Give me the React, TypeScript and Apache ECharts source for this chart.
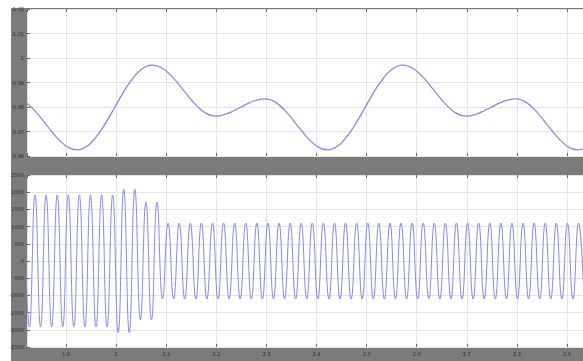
import React, { useEffect, useRef } from "react";
import * as echarts from "echarts";

// Top panel: slow oscillation (time in s, value)
const topTimes = [
  1.798, 1.8187, 1.8393, 1.86, 1.8807, 1.9013,
  1.922, 1.947, 1.972, 1.997, 2.022, 2.047,
  2.072, 2.093, 2.114, 2.135, 2.156, 2.177,
  2.198, 2.2147, 2.2313, 2.248, 2.2647, 2.2813,
  2.298, 2.3187, 2.3393, 2.36, 2.3807, 2.4013,
  2.422, 2.447, 2.472, 2.497, 2.522, 2.547,
  2.572, 2.593, 2.614, 2.635, 2.656, 2.677,
  2.698, 2.7147, 2.7313, 2.748, 2.7647, 2.7813,
  2.798, 2.8187, 2.8393, 2.86, 2.8807, 2.9013,
  2.922, 2.947, 2.972,
];
const topValues = [
  0.9833, 0.9819, 0.9781, 0.9729, 0.9677, 0.9639,
  0.9625, 0.9648, 0.9712, 0.9798, 0.9885, 0.9948,
  0.9971, 0.9957, 0.9919, 0.9867, 0.9815, 0.9777,
  0.9763, 0.9768, 0.9781, 0.9798, 0.9816, 0.9828,
  0.9833, 0.9819, 0.9781, 0.9729, 0.9677, 0.9639,
  0.9625, 0.9648, 0.9712, 0.9798, 0.9885, 0.9948,
  0.9971, 0.9957, 0.9919, 0.9867, 0.9815, 0.9777,
  0.9763, 0.9768, 0.9781, 0.9798, 0.9816, 0.9828,
  0.9833, 0.9819, 0.9781, 0.9729, 0.9677, 0.9639,
  0.9625, 0.9648, 0.9712,
];

// Bottom panel: fast oscillation, peaks and troughs (time in s, value)
const bottomTimes = [
  1.8159, 1.8269, 1.838, 1.8491, 1.8601, 1.8712, 1.8823, 1.8934, 1.9044, 1.9155,
  1.9266, 1.9376, 1.9487, 1.9598, 1.9709, 1.9819, 1.993, 2.0041, 2.0151, 2.0262,
  2.0373, 2.0484, 2.0594, 2.0705, 2.0816, 2.0926, 2.1037, 2.1148, 2.1259, 2.1369,
  2.148, 2.1591, 2.1701, 2.1812, 2.1923, 2.2034, 2.2144, 2.2255, 2.2366, 2.2476,
  2.2587, 2.2698, 2.2809, 2.2919, 2.303, 2.3141, 2.3251, 2.3362, 2.3473, 2.3584,
  2.3694, 2.3805, 2.3916, 2.4026, 2.4137, 2.4248, 2.4359, 2.4469, 2.458, 2.4691,
  2.4801, 2.4912, 2.5023, 2.5134, 2.5244, 2.5355, 2.5466, 2.5576, 2.5687, 2.5798,
  2.5909, 2.6019, 2.613, 2.6241, 2.6351, 2.6462, 2.6573, 2.6684, 2.6794, 2.6905,
  2.7016, 2.7126, 2.7237, 2.7348, 2.7459, 2.7569, 2.768, 2.7791, 2.7901, 2.8012,
  2.8123, 2.8234, 2.8344, 2.8455, 2.8566, 2.8676, 2.8787, 2.8898, 2.9009, 2.9119,
  2.923, 2.9341,
];
const bottomValues = [
  1920, -1920, 1920, -1920, 1920, -1920, 1920, -1920, 1920, -1920,
  1920, -1920, 1920, -1920, 1920, -1920, 1920, -2080, 2080, -2080,
  2080, -1715, 1715, -1715, 1715, -1105, 1105, -1105, 1105, -1105,
  1105, -1105, 1105, -1105, 1105, -1105, 1105, -1105, 1105, -1105,
  1105, -1105, 1105, -1105, 1105, -1105, 1105, -1105, 1105, -1105,
  1105, -1105, 1105, -1105, 1105, -1105, 1105, -1105, 1105, -1105,
  1105, -1105, 1105, -1105, 1105, -1105, 1105, -1105, 1105, -1105,
  1105, -1105, 1105, -1105, 1105, -1105, 1105, -1105, 1105, -1105,
  1105, -1105, 1105, -1105, 1105, -1105, 1105, -1105, 1105, -1105,
  1105, -1105, 1105, -1105, 1105, -1105, 1105, -1105, 1105, -1105,
  1105, -1105,
];

const xRange = [1.822, 2.932];
const topYTicks = [0.96, 0.97, 0.98, 0.99, 1, 1.01, 1.02];
const bottomYTicks = [-2500, -2000, -1500, -1000, -500, 0, 500, 1000, 1500, 2000, 2500];

const GRAY = "#7b7b7b";
const GRID_LINE = "#e3e3e3";
const LINE_COLOR = "#8888e8";
const LABEL_COLOR = "#2a2a2a";
const FONT = "DejaVu Sans";

export default function App() {
  const ref = useRef<HTMLDivElement>(null);
  useEffect(() => {
    if (!ref.current) return;
    const chart = echarts.init(ref.current, undefined, { renderer: "svg" });

    const xBase = (gridIndex: number, pos: "top" | "bottom", labels: boolean) => ({
      type: "value",
      gridIndex,
      position: pos,
      min: xRange[0],
      max: xRange[1],
      minInterval: 0.1,
      maxInterval: 0.1,
      axisLine: { show: false, onZero: false },
      axisTick: { show: true, inside: true, length: 3, lineStyle: { color: "#666", width: 1 } },
      axisLabel: {
        show: labels,
        showMinLabel: false,
        showMaxLabel: false,
        fontSize: 5,
        color: LABEL_COLOR,
        fontFamily: FONT,
        margin: 4,
      },
      splitLine: { show: pos === "bottom", lineStyle: { color: GRID_LINE, width: 1 } },
    });

    const yBase = (gridIndex: number, ticks: number[]) => ({
      type: "value",
      gridIndex,
      min: ticks[0],
      max: ticks[ticks.length - 1],
      interval: gridIndex === 0 ? 0.01 : 500,
      axisLine: { show: false, onZero: false },
      axisTick: { show: true, inside: true, length: 3, lineStyle: { color: "#666", width: 1 } },
      axisLabel: {
        fontSize: 5,
        color: LABEL_COLOR,
        fontFamily: FONT,
        margin: 3,
        formatter: (v: number) => String(Math.round(v * 1000) / 1000),
      },
      splitLine: { show: true, lineStyle: { color: GRID_LINE, width: 1 } },
    });

    chart.setOption({
      animation: false,
      backgroundColor: "#ffffff",
      graphic: [
        {
          type: "rect",
          z: -10,
          silent: true,
          shape: { x: 11, y: 8, width: 572, height: 353 },
          style: { fill: GRAY },
        },
      ],
      grid: [
        { left: 27, top: 9, width: 556, height: 147, show: true, backgroundColor: "#ffffff", borderWidth: 0 },
        { left: 27, top: 175, width: 556, height: 172, show: true, backgroundColor: "#ffffff", borderWidth: 0 },
      ],
      xAxis: [
        xBase(0, "bottom", false),
        xBase(0, "top", false),
        xBase(1, "bottom", true),
        xBase(1, "top", false),
      ],
      yAxis: [yBase(0, topYTicks), yBase(1, bottomYTicks)],
      series: [
        {
          type: "line",
          xAxisIndex: 0,
          yAxisIndex: 0,
          data: topTimes.map((t, i) => [t, topValues[i]]),
          showSymbol: false,
          smooth: 0.3,
          lineStyle: { color: LINE_COLOR, width: 1.3 },
        },
        {
          type: "line",
          xAxisIndex: 2,
          yAxisIndex: 1,
          data: bottomTimes.map((t, i) => [t, bottomValues[i]]),
          showSymbol: false,
          smooth: 0.5,
          lineStyle: { color: LINE_COLOR, width: 1 },
        },
      ],
    });
    return () => chart.dispose();
  }, []);
  return (
    <div
      ref={ref}
      style={{ position: "absolute", left: 0, top: 0, width: 583, height: 361 }}
    />
  );
}
